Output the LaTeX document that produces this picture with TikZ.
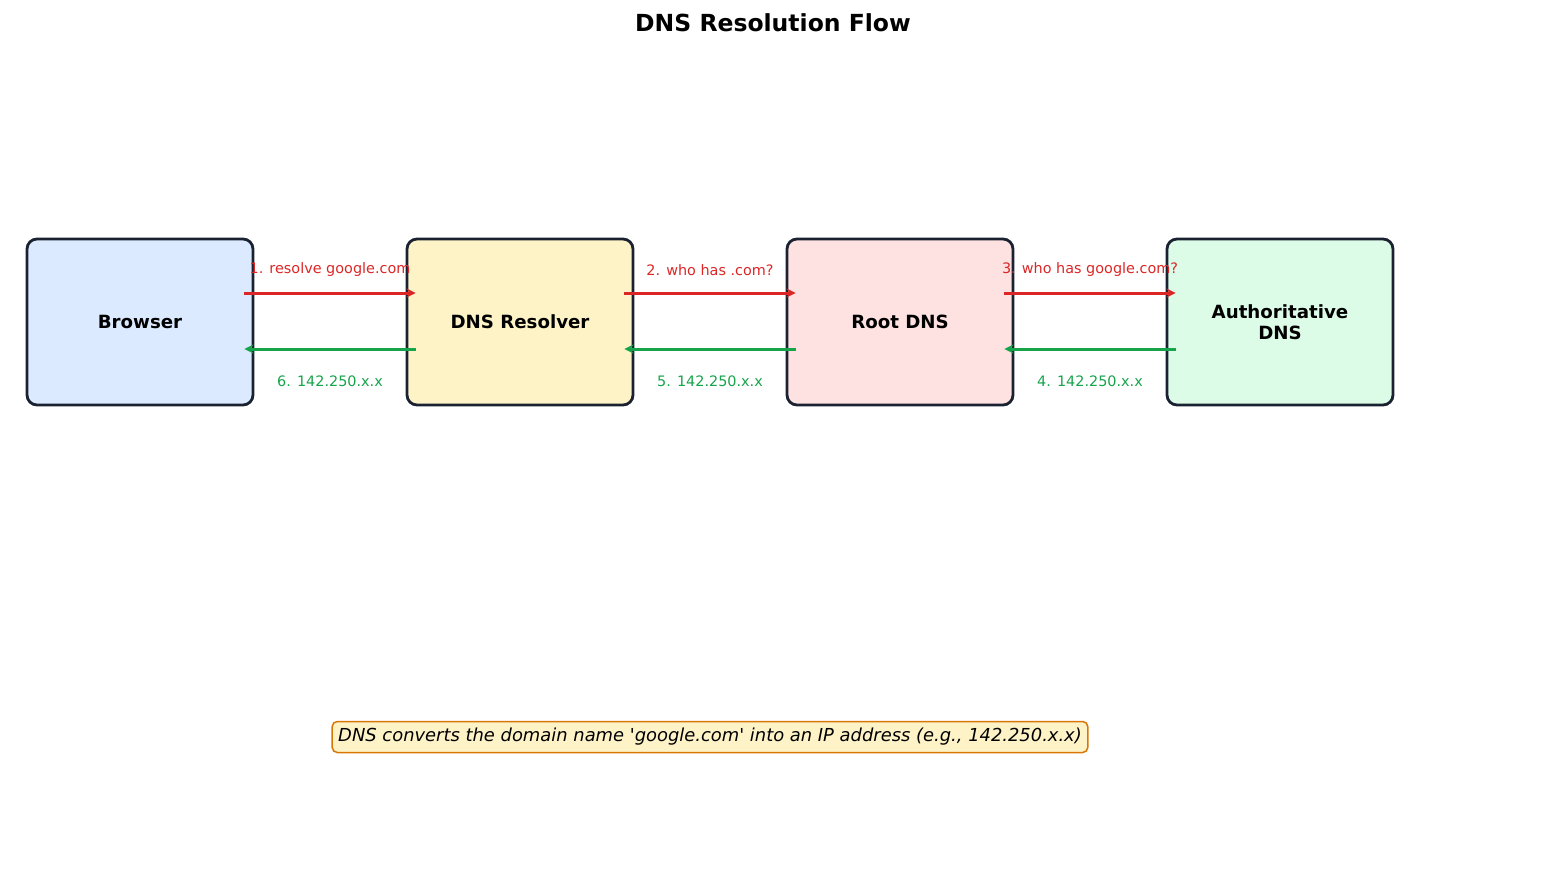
\documentclass[tikz,border=0pt]{standalone}
\usepackage{fontspec}
\setmainfont{DejaVu Sans}
\usepackage{tikz}
\usetikzlibrary{arrows.meta,positioning,calc}

\definecolor{edgedark}{HTML}{1A2130}
\definecolor{reqred}{HTML}{DC2626}
\definecolor{ansgreen}{HTML}{16A34A}
\definecolor{bluefill}{HTML}{DBEAFE}
\definecolor{yellowfill}{HTML}{FEF3C7}
\definecolor{pinkfill}{HTML}{FEE2E2}
\definecolor{greenfill}{HTML}{DCFCE7}
\definecolor{noteedge}{HTML}{D97706}

\tikzset{
  server/.style={draw=edgedark, line width=2.8pt, rounded corners=10pt,
    minimum width=226pt, minimum height=166pt, align=center,
    font=\fontsize{18.2}{21}\selectfont\bfseries},
  req/.style={->, >={Stealth[length=9pt,width=9pt]}, line width=3pt, reqred},
  ans/.style={->, >={Stealth[length=9pt,width=9pt]}, line width=3pt, ansgreen},
  lbl/.style={font=\fontsize{14.4}{17}\selectfont},
}

\begin{document}
\begin{tikzpicture}[x=1pt,y=-1pt]
    \useasboundingbox (0,0) rectangle (1547,896);
    \node[font=\fontsize{23.5}{27}\selectfont\bfseries] (title) at (773,23) {DNS Resolution Flow};

    \node[server, fill=bluefill] (browser) at (140,322) {Browser};
    \node[server, fill=yellowfill] (resolver) at (520,322) {DNS Resolver};
    \node[server, fill=pinkfill] (root) at (900,322) {Root DNS};
    \node[server, fill=greenfill] (auth) at (1280,322) {Authoritative\\DNS};

    % queries
    \draw[req] ([xshift=-10pt,yshift=29pt]browser.east) -- ([xshift=10pt,yshift=29pt]resolver.west)
        node[lbl, midway, yshift=23pt] {1. resolve google.com};
    \draw[req] ([xshift=-10pt,yshift=29pt]resolver.east) -- ([xshift=10pt,yshift=29pt]root.west)
        node[lbl, midway, yshift=23pt] {2. who has .com?};
    \draw[req] ([xshift=-10pt,yshift=29pt]root.east) -- ([xshift=10pt,yshift=29pt]auth.west)
        node[lbl, midway, yshift=23pt] {3. who has google.com?};

    % answers
    \draw[ans] ([xshift=10pt,yshift=-27pt]auth.west) -- ([xshift=-10pt,yshift=-27pt]root.east)
        node[lbl, midway, yshift=-32pt] {4. 142.250.x.x};
    \draw[ans] ([xshift=10pt,yshift=-27pt]root.west) -- ([xshift=-10pt,yshift=-27pt]resolver.east)
        node[lbl, midway, yshift=-32pt] {5. 142.250.x.x};
    \draw[ans] ([xshift=10pt,yshift=-27pt]resolver.west) -- ([xshift=-10pt,yshift=-27pt]browser.east)
        node[lbl, midway, yshift=-32pt] {6. 142.250.x.x};

    \node[draw=noteedge, fill=yellowfill, line width=1.5pt, rounded corners=5pt,
        inner xsep=6pt, minimum height=31pt, font=\fontsize{17.9}{20}\selectfont\itshape] (note) at (710,737)
        {DNS converts the domain name \textquotesingle google.com\textquotesingle\ into an IP address (e.g., 142.250.x.x)};
\end{tikzpicture}
\end{document}
